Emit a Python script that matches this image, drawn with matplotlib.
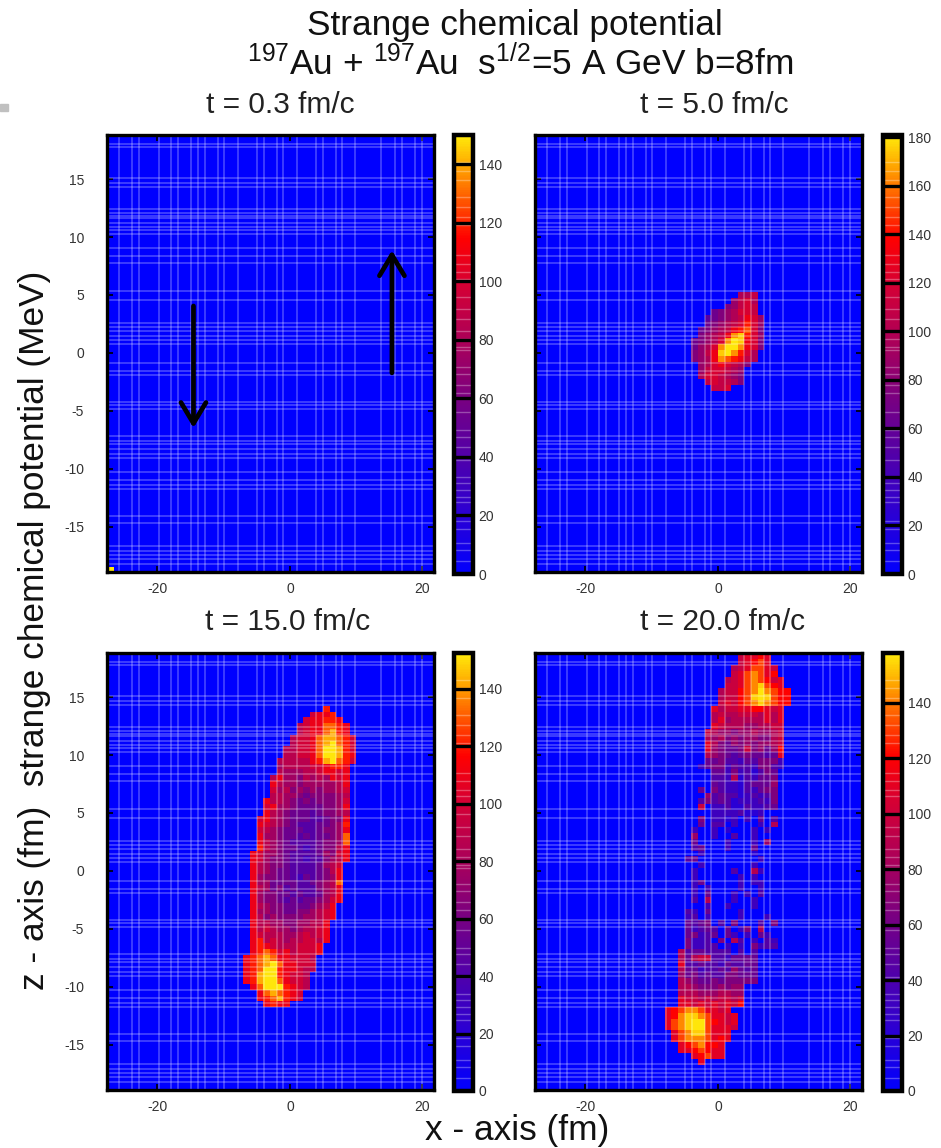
#!/usr/bin/env python
# coding=utf-8
""" Strange chemical potential maps, four time slices
"""
import numpy as np
import matplotlib
matplotlib.use("Agg")
import matplotlib.pyplot as plt
from matplotlib.colors import LinearSegmentedColormap

plt.rcParams['font.family'] = ['Liberation Sans', 'DejaVu Sans']
plt.rcParams['mathtext.fontset'] = 'custom'
plt.rcParams['mathtext.rm'] = 'Liberation Sans'
plt.rcParams['mathtext.default'] = 'regular'
plt.rcParams['axes.unicode_minus'] = False

W, H = 941., 1148.

# cells of the maps, one string per row, top row first
# each char is value/11 in base 36, '.' is 0
rows_t03 = ["f"]
rows_t5 = [
    ".......99a.",
    "......8ab9.",
    ".....78aba.",
    "...6789bba.",
    "..56789acb8",
    "..6789abdb8",
    ".6789acdeb7",
    ".789acfgdb8",
    "6789bfhgcb7",
    "689bfhhfcb7",
    "78acghfdb9.",
    "789cfedca9.",
    ".89bcba97..",
    ".8abba98...",
    ".9bba987...",
    "..abaa97...",
    "...aab.....",
]
rows_t15 = [
    "............b....",
    "..........9aab...",
    ".........9aabba..",
    "........89aaccba.",
    "........89aacdba.",
    ".......899acddcb9",
    ".......899acdecb9",
    "......8899acefdb9",
    "......8899acefdba",
    ".....88888abdecb9",
    ".....7888899abba.",
    ".....8777889aa9a.",
    "....8a7768787a9a.",
    "....a8776777778a.",
    "....978676767789.",
    "....887765666678.",
    "...a887656566679.",
    "...9a7765555667a.",
    "...a876555456678.",
    "..9a87655544566a.",
    "..a987654445567b.",
    "..9876555445667a.",
    "..a776554545567c.",
    "..a876544445667c.",
    "..b876554345668a.",
    ".a9776544445769a.",
    ".a9766544344678a.",
    ".a8766544445789..",
    ".a876554444568a..",
    ".a766554354567a..",
    ".a775555445678c..",
    ".a875645444678a..",
    ".a766554544578a..",
    ".a766545455679a..",
    ".a87665555678a...",
    ".a77665566789a...",
    ".a86766667789a...",
    ".a8877667788a....",
    ".a8987767889a....",
    ".a9888778989a....",
    ".ab898788998a....",
    ".aba9888999a.....",
    ".abcb9a8999a.....",
    "abcdcaa9998......",
    "abcdecaa999......",
    "abceebaa988......",
    "abdfeba998.......",
    "abdfeca998.......",
    ".acefeba98.......",
    "..acdcba9........",
    "..abcdba9........",
    "...abaa..........",
]
rows_t20 = [
    "...........9aaba...",
    "...........9abca...",
    "..........89acca9..",
    "..........9acdcab..",
    ".........89acdcb9a.",
    ".........99acdecba.",
    "........899bcdfdcbb",
    "........899bcefecbb",
    "........9a9bcdedcbb",
    ".......a899aabba9a.",
    ".......89889998a8a.",
    ".......8a788888a8a.",
    ".......a9888778899.",
    "......987767787789.",
    "......878676776689.",
    "......a86576767789.",
    "......a7655696757b.",
    "......87654565545a.",
    "......556443546663.",
    ".....3566354436643.",
    ".......5536342465...",
    ".......4438243556..",
    ".......5433245557..",
    ".....5.6433243566..",
    "......74544234346..",
    ".....464542333436..",
    ".....9.3342243345..",
    ".......33334223.....",
    ".....6.3323.3.5.4..",
    ".....5.44.3...3.8..",
    "....3..3.2...3.3...",
    "....7..3..4..3.....",
    "....5....3...3.7...",
    "....45...3...5.....",
    ".....3.......2.....",
    "...45.........3....",
    ".....3.......3.....",
    "....3.....4..83....",
    "....3......3.3.....",
    "....35.....3.33....",
    "....3.3....3..3....",
    "....3.5...3.3.4....",
    "....4.8...3..3.....",
    "......3..3...3.....",
    "...43.5....3.......",
    "...34.3....3...3...",
    "...5456.4.6...4.6..",
    "...53454.5.36.8....",
    "...56345.53.3.53...",
    "...6334.6.84.3.43..",
    "...63344.3.3.6344..",
    "..84554444.4.4.....",
    "..858994435555.....",
    "..a44544354455.....",
    "..855344547545.....",
    "..756454466555.....",
    "..876556566666.....",
    "..8876667677.......",
    "..8887778877.......",
    "..a998989989.......",
    "..aa9a9a9a9b.......",
    "abcddcaa9a.........",
    "abdeedcaa9a........",
    "acdeffcba9a........",
    "acdeffcaaa9........",
    ".acdeecaaa.........",
    ".acdddcaba.........",
    "..abcdbba..........",
    "..aabcbaa..........",
    "....abcaa..........",
    ".....a.............",
]
# left edge (x, fm) and top edge (z, fm) of each block of cells
x_left = [-27.5, -4, -7, -8]
z_top = [-18.5, 5.25, 14.25, 18.75]
all_rows = [rows_t03, rows_t5, rows_t15, rows_t20]
panel_titles = ["t = 0.3 fm/c", "t = 5.0 fm/c", "t = 15.0 fm/c", "t = 20.0 fm/c"]
title_x = [280, 714, 288, 722]
title_y = [113, 113, 630, 630]
vmax_list = [150, 181, 152.5, 158]
cbar_ticks = [range(0, 141, 20), range(0, 181, 20), range(0, 141, 20), range(0, 141, 20)]

x_ticks = [-20, 0, 20]
z_ticks = [-15, -10, -5, 0, 5, 10, 15]

# the pale lines of the mesh, same in all panels
grid_x = [-25.8, -23.8, -22.8, -19.8, -17.9, -16.9, -14.9, -13.9, -12.8, -10.9, -9.9, -7.9,
          -5, -3.9, -2, -1, 1, 3.9, 5, 6.9, 7.9, 9.9, 13.8, 15.9, 16.9, 18.9, 19.9]
grid_z = [18.0, 17.8, 15.1, 14.7, 14.3, 12.4, 12.1, 11.8, 11.6, 11.2, 10.9, 10.6, 10.3, 9.05,
          8.4, 7.8, 5.3, 4.6, 2.6, 2.2, 1.9, 1.5, 1.1, 0.8, -0.9, -1.6, -1.9, -4.2, -4.5, -4.8,
          -7.2, -7.6, -7.9, -8.3, -8.7, -9.05, -10.3, -11.0, -11.4, -11.7, -14.05, -14.65,
          -16.7, -17.1, -17.4, -17.8, -18.2]
# pale lines in the colour bars, as fraction of the bar height
grid_bar = [.939, .919, .898, .858, .835, .813, .795, .727, .707, .688, .673, .632, .603, .582,
            .553, .535, .517, .510, .472, .456, .431, .413, .368, .327, .312, .289, .260, .221,
            .208, .192, .176, .163, .120, .102, .070, .054, .029]

# start and end of the arrows in panel one
arrow_down = [(-14.55, 4.05), (-14.55, -6.47)]
arrow_up = [(15.4, -1.72), (15.4, 8.85)]

pal = LinearSegmentedColormap.from_list("pm3d", [
    (0.0, (0, 0, 1)), (.13, (.157, 0, .843)), (.27, (.314, 0, .667)), (.40, (.47, 0, .51)),
    (.53, (.667, 0, .353)), (.67, (.843, 0, .196)), (.77, (1, 0, 0)), (.87, (1, .39, 0)),
    (.93, (1, .63, 0)), (1.0, (1, .9, .04))])

# pixel boxes: left, top, right, bottom
boxes = [(107, 135, 434, 572), (535, 135, 862, 572), (107, 653, 434, 1090), (535, 653, 862, 1090)]
bars = [(454, 135, 473, 574), (883, 135, 902, 574), (454, 653, 473, 1091), (883, 653, 902, 1091)]


def px_axes(fig, box):
    l, t, r, b = box
    return fig.add_axes([l / W, 1 - b / H, (r - l) / W, (b - t) / H])


def decode(rows):
    n = max(len(r) for r in rows)
    out = np.zeros((len(rows), n))
    for i, r in enumerate(rows):
        for j, ch in enumerate(r):
            if ch != '.':
                out[i, j] = int(ch, 36) * 11
    return out


fig = plt.figure(figsize=(W / 100, H / 100), dpi=100)

for i in range(4):
    ax = px_axes(fig, boxes[i])
    ax.set_facecolor((0, 0, 1))
    vals = decode(all_rows[i])
    xe = x_left[i] + np.arange(vals.shape[1] + 1)
    ze = z_top[i] - 0.5 * np.arange(vals.shape[0] + 1)
    mesh = ax.pcolormesh(xe, ze, vals, cmap=pal, vmin=0, vmax=vmax_list[i], antialiased=False)
    ax.set_xlim(-27.6, 21.75)
    ax.set_ylim(-18.9, 18.8)
    for v in grid_x:
        ax.axvline(v, color='w', alpha=.3, lw=1.1)
    for v in grid_z:
        ax.axhline(v, color='w', alpha=.3, lw=1.1)
    ax.set_xticks(x_ticks)
    ax.set_yticks(z_ticks)
    ax.tick_params(direction='in', length=4, width=1.2, top=True, right=True, labelsize=10,
                   labelcolor='#333333')
    ax.tick_params(axis='x', pad=7.5)
    ax.tick_params(axis='y', pad=16.5)
    if i % 2 == 1:
        ax.tick_params(axis='y', labelleft=False)
    for s in ax.spines.values():
        s.set_linewidth(2.4)
    if i == 0:
        for a in (arrow_down, arrow_up):
            ax.annotate("", xy=a[1], xytext=a[0], zorder=5, arrowprops=dict(
                arrowstyle="->,head_length=15,head_width=9", mutation_scale=1, lw=3.4,
                color='k', shrinkA=0, shrinkB=0))

    cax = px_axes(fig, bars[i])
    cb = fig.colorbar(mesh, cax=cax, ticks=list(cbar_ticks[i]))
    cb.solids.set_edgecolor("face")
    cb.outline.set_linewidth(3.2)
    cax.tick_params(length=0, labelsize=10, labelcolor='#333333', pad=4)
    for f in grid_bar:
        cax.axhline(f * vmax_list[i], color='w', alpha=.3, lw=1.0)
    for t in cbar_ticks[i]:
        if t > 0:
            cax.axhline(t, color='k', lw=2.4)

    fig.text(title_x[i] / W, 1 - title_y[i] / H, panel_titles[i], ha='center', va='baseline',
             fontsize=21.5, color='#222222')

fig.text(514.5 / W, 1 - 35 / H, "Strange chemical potential", ha='center', va='baseline',
         fontsize=25.4, color='#111111')
fig.text(520 / W, 1 - 75 / H, r"$^{197}$Au + $^{197}$Au  s$^{1/2}$=5 A GeV b=8fm", ha='center',
         va='baseline', fontsize=25.4, color='#111111')
fig.text(35 / W, 1 - 630 / H, "z - axis (fm)  strange chemical potential (MeV)", rotation=90,
         ha='center', va='center', fontsize=25.4, color='#111111')
fig.text(517 / W, 1 - 1140 / H, "x - axis (fm)", ha='center', va='baseline', fontsize=25.4, color='#111111')

# grey scrap in the corner of the page
fig.patches.append(plt.Rectangle((0, 1 - 111 / H), 8 / W, 7 / H, transform=fig.transFigure,
                                 color='#c0c0c0', figure=fig))

fig.savefig("out.png", dpi=100)
